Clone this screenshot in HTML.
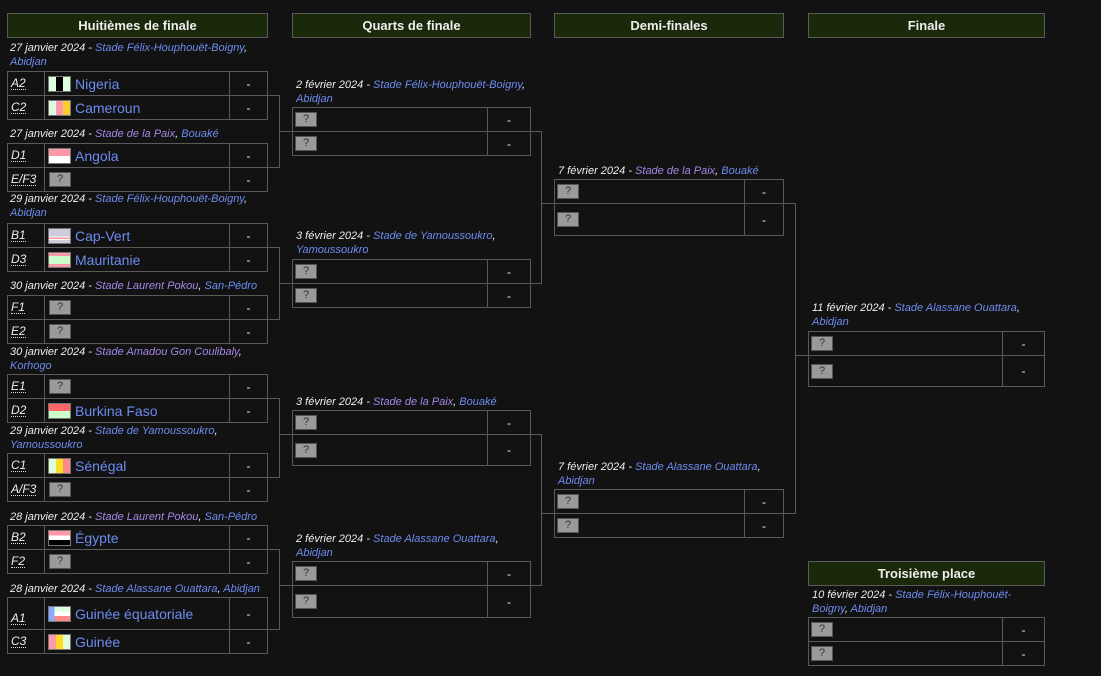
<!DOCTYPE html>
<html><head><meta charset="utf-8"><style>
body{margin:0;background:#121212;width:1101px;height:676px;overflow:hidden;position:relative;font-family:"Liberation Sans",Arial,sans-serif;color:#eee}
.h{position:absolute;top:13px;height:25px;box-sizing:border-box;border:1px solid #5a5a5a;background:#1b290b;color:#eee;font-weight:bold;font-size:13px;display:flex;align-items:center;justify-content:center}
.c{position:absolute;box-sizing:border-box;border:1px solid #5a5a5a;display:flex;align-items:center;font-size:14px}
.d{position:absolute;font-size:11px;font-style:italic;line-height:14px;color:#eee;width:255px}
.a{color:#6d8cf0}.v{color:#a587e6}
.c1a{left:7px;width:38px;padding-left:3px;font-style:italic;font-size:12px}
.c1a span{border-bottom:1px dotted #ddd;line-height:11px}
.c1b{left:44px;width:186px;padding-left:3px}
.c1c,.q2,.s2,.f2{justify-content:center;color:#eee;font-size:12px}
.c1c{left:229px;width:39px}
.q1{left:292px;width:196px;padding-left:2px}.q2{left:487px;width:44px}
.s1{left:554px;width:191px;padding-left:2px}.s2{left:744px;width:40px}
.f1{left:808px;width:195px;padding-left:2px}.f2{left:1002px;width:43px}
.q{display:inline-block;width:22px;height:15px;box-sizing:border-box;background:#9a9a9a;border:1px solid #555;color:#333;font-size:11px;font-style:normal;text-align:center;line-height:13px}
.c1b .q{margin-left:1px}
.fl{display:inline-block;width:23px;height:16px;border:1px solid #777;margin-right:4px;box-sizing:border-box}
.t{color:#6d8cf0}
</style></head><body>
<div class="h" style="left:7px;width:261px">Huitièmes de finale</div>
<div class="h" style="left:292px;width:239px">Quarts de finale</div>
<div class="h" style="left:554px;width:230px">Demi-finales</div>
<div class="h" style="left:808px;width:237px">Finale</div>
<div class="h" style="left:808px;width:237px;top:561px">Troisième place</div>

<svg width="1101" height="676" style="position:absolute;left:0;top:0" fill="none" stroke="#5a5a5a" stroke-width="1">
<path d="M267 95.5H279.5V167.5H267M279.5 131.5H292"/>
<path d="M267 247.5H279.5V319.5H267M279.5 283.5H292"/>
<path d="M267 398.5H279.5V477.5H267M279.5 434.5H292"/>
<path d="M267 549.5H279.5V629.5H267M279.5 585.5H292"/>
<path d="M530 131.5H541.5V283.5H530M541.5 203.5H554"/>
<path d="M530 434.5H541.5V585.5H530M541.5 513.5H554"/>
<path d="M783 203.5H795.5V513.5H783M795.5 355.5H808"/>
</svg>

<!-- Round of 16 -->
<div class="d" style="left:10px;top:41px">27 janvier 2024 - <span class="a">Stade Félix-Houphouët-Boigny</span>, <span class="a">Abidjan</span></div>
<div class="c c1a" style="top:71px;height:25px"><span>A2</span></div><div class="c c1b" style="top:71px;height:25px"><i class="fl" style="background:linear-gradient(90deg,#dfd 33%,#000 33% 66%,#dfd 66%)"></i><span class="t">Nigeria</span></div><div class="c c1c" style="top:71px;height:25px">-</div>
<div class="c c1a" style="top:95px;height:25px"><span>C2</span></div><div class="c c1b" style="top:95px;height:25px"><i class="fl" style="background:linear-gradient(90deg,#dfd 33%,#f9a 33% 66%,#fc3 66%)"></i><span class="t">Cameroun</span></div><div class="c c1c" style="top:95px;height:25px">-</div>

<div class="d" style="left:10px;top:127px">27 janvier 2024 - <span class="v">Stade de la Paix</span>, <span class="a">Bouaké</span></div>
<div class="c c1a" style="top:143px;height:25px"><span>D1</span></div><div class="c c1b" style="top:143px;height:25px"><i class="fl" style="background:linear-gradient(#f9a 50%,#fff 50%)"></i><span class="t">Angola</span></div><div class="c c1c" style="top:143px;height:25px">-</div>
<div class="c c1a" style="top:167px;height:25px"><span>E/F3</span></div><div class="c c1b" style="top:167px;height:25px"><i class="q">?</i></div><div class="c c1c" style="top:167px;height:25px">-</div>

<div class="d" style="left:10px;top:192px">29 janvier 2024 - <span class="a">Stade Félix-Houphouët-Boigny</span>, <span class="a">Abidjan</span></div>
<div class="c c1a" style="top:223px;height:25px"><span>B1</span></div><div class="c c1b" style="top:223px;height:25px"><i class="fl" style="background:linear-gradient(#ccd 55%,#fff 55% 62%,#f99 62% 70%,#fff 70% 77%,#ccd 77%)"></i><span class="t">Cap-Vert</span></div><div class="c c1c" style="top:223px;height:25px">-</div>
<div class="c c1a" style="top:247px;height:25px"><span>D3</span></div><div class="c c1b" style="top:247px;height:25px"><i class="fl" style="background:linear-gradient(#f9a 20%,#cfc 20% 80%,#f9a 80%)"></i><span class="t">Mauritanie</span></div><div class="c c1c" style="top:247px;height:25px">-</div>

<div class="d" style="left:10px;top:279px">30 janvier 2024 - <span class="v">Stade Laurent Pokou</span>, <span class="a">San-Pédro</span></div>
<div class="c c1a" style="top:295px;height:25px"><span>F1</span></div><div class="c c1b" style="top:295px;height:25px"><i class="q">?</i></div><div class="c c1c" style="top:295px;height:25px">-</div>
<div class="c c1a" style="top:319px;height:25px"><span>E2</span></div><div class="c c1b" style="top:319px;height:25px"><i class="q">?</i></div><div class="c c1c" style="top:319px;height:25px">-</div>

<div class="d" style="left:10px;top:345px">30 janvier 2024 - <span class="v">Stade Amadou Gon Coulibaly</span>, <span class="a">Korhogo</span></div>
<div class="c c1a" style="top:374px;height:25px"><span>E1</span></div><div class="c c1b" style="top:374px;height:25px"><i class="q">?</i></div><div class="c c1c" style="top:374px;height:25px">-</div>
<div class="c c1a" style="top:398px;height:25px"><span>D2</span></div><div class="c c1b" style="top:398px;height:25px"><i class="fl" style="background:linear-gradient(#f66 50%,#cfc 50%)"></i><span class="t">Burkina Faso</span></div><div class="c c1c" style="top:398px;height:25px">-</div>

<div class="d" style="left:10px;top:424px">29 janvier 2024 - <span class="a">Stade de Yamoussoukro</span>, <span class="a">Yamoussoukro</span></div>
<div class="c c1a" style="top:453px;height:25px"><span>C1</span></div><div class="c c1b" style="top:453px;height:25px"><i class="fl" style="background:linear-gradient(90deg,#dfd 33%,#fd2 33% 66%,#f88 66%)"></i><span class="t">Sénégal</span></div><div class="c c1c" style="top:453px;height:25px">-</div>
<div class="c c1a" style="top:477px;height:25px"><span>A/F3</span></div><div class="c c1b" style="top:477px;height:25px"><i class="q">?</i></div><div class="c c1c" style="top:477px;height:25px">-</div>

<div class="d" style="left:10px;top:510px">28 janvier 2024 - <span class="v">Stade Laurent Pokou</span>, <span class="a">San-Pédro</span></div>
<div class="c c1a" style="top:525px;height:25px"><span>B2</span></div><div class="c c1b" style="top:525px;height:25px"><i class="fl" style="background:linear-gradient(#f9a 33%,#fff 33% 66%,#000 66%)"></i><span class="t">Égypte</span></div><div class="c c1c" style="top:525px;height:25px">-</div>
<div class="c c1a" style="top:549px;height:25px"><span>F2</span></div><div class="c c1b" style="top:549px;height:25px"><i class="q">?</i></div><div class="c c1c" style="top:549px;height:25px">-</div>

<div class="d" style="left:10px;top:582px">28 janvier 2024 - <span class="a">Stade Alassane Ouattara</span>, <span class="a">Abidjan</span></div>
<div class="c c1a" style="top:597px;height:33px;align-items:flex-end;padding-bottom:4px"><span>A1</span></div><div class="c c1b" style="top:597px;height:33px"><i class="fl" style="background:linear-gradient(90deg,#8af 0 25%,transparent 25%),linear-gradient(#dfd 33%,#fff 33% 66%,#f88 66%)"></i><span class="t">Guinée équatoriale</span></div><div class="c c1c" style="top:597px;height:33px">-</div>
<div class="c c1a" style="top:629px;height:25px"><span>C3</span></div><div class="c c1b" style="top:629px;height:25px"><i class="fl" style="background:linear-gradient(90deg,#f9a 33%,#fd2 33% 66%,#dfd 66%)"></i><span class="t">Guinée</span></div><div class="c c1c" style="top:629px;height:25px">-</div>

<!-- QF -->
<div class="d" style="left:296px;top:78px;width:240px">2 février 2024 - <span class="a">Stade Félix-Houphouët-Boigny</span>, <span class="a">Abidjan</span></div>
<div class="c q1" style="top:107px;height:25px"><i class="q">?</i></div><div class="c q2" style="top:107px;height:25px">-</div>
<div class="c q1" style="top:131px;height:25px"><i class="q">?</i></div><div class="c q2" style="top:131px;height:25px">-</div>

<div class="d" style="left:296px;top:229px;width:240px">3 février 2024 - <span class="a">Stade de Yamoussoukro</span>, <span class="a">Yamoussoukro</span></div>
<div class="c q1" style="top:259px;height:25px"><i class="q">?</i></div><div class="c q2" style="top:259px;height:25px">-</div>
<div class="c q1" style="top:283px;height:25px"><i class="q">?</i></div><div class="c q2" style="top:283px;height:25px">-</div>

<div class="d" style="left:296px;top:395px;width:240px">3 février 2024 - <span class="v">Stade de la Paix</span>, <span class="a">Bouaké</span></div>
<div class="c q1" style="top:410px;height:25px"><i class="q">?</i></div><div class="c q2" style="top:410px;height:25px">-</div>
<div class="c q1" style="top:434px;height:32px"><i class="q">?</i></div><div class="c q2" style="top:434px;height:32px">-</div>

<div class="d" style="left:296px;top:532px;width:240px">2 février 2024 - <span class="a">Stade Alassane Ouattara</span>, <span class="a">Abidjan</span></div>
<div class="c q1" style="top:561px;height:25px"><i class="q">?</i></div><div class="c q2" style="top:561px;height:25px">-</div>
<div class="c q1" style="top:585px;height:33px"><i class="q">?</i></div><div class="c q2" style="top:585px;height:33px">-</div>

<!-- Semis -->
<div class="d" style="left:558px;top:164px;width:230px">7 février 2024 - <span class="v">Stade de la Paix</span>, <span class="a">Bouaké</span></div>
<div class="c s1" style="top:179px;height:25px"><i class="q">?</i></div><div class="c s2" style="top:179px;height:25px">-</div>
<div class="c s1" style="top:203px;height:33px"><i class="q">?</i></div><div class="c s2" style="top:203px;height:33px">-</div>

<div class="d" style="left:558px;top:460px;width:230px">7 février 2024 - <span class="a">Stade Alassane Ouattara</span>, <span class="a">Abidjan</span></div>
<div class="c s1" style="top:489px;height:25px"><i class="q">?</i></div><div class="c s2" style="top:489px;height:25px">-</div>
<div class="c s1" style="top:513px;height:25px"><i class="q">?</i></div><div class="c s2" style="top:513px;height:25px">-</div>

<!-- Final -->
<div class="d" style="left:812px;top:301px;width:235px">11 février 2024 - <span class="a">Stade Alassane Ouattara</span>, <span class="a">Abidjan</span></div>
<div class="c f1" style="top:331px;height:25px"><i class="q">?</i></div><div class="c f2" style="top:331px;height:25px">-</div>
<div class="c f1" style="top:355px;height:32px"><i class="q">?</i></div><div class="c f2" style="top:355px;height:32px">-</div>

<div class="d" style="left:812px;top:588px;width:215px">10 février 2024 - <span class="a">Stade Félix-Houphouët-Boigny</span>, <span class="a">Abidjan</span></div>
<div class="c f1" style="top:617px;height:25px"><i class="q">?</i></div><div class="c f2" style="top:617px;height:25px">-</div>
<div class="c f1" style="top:641px;height:25px"><i class="q">?</i></div><div class="c f2" style="top:641px;height:25px">-</div>
</body></html>
